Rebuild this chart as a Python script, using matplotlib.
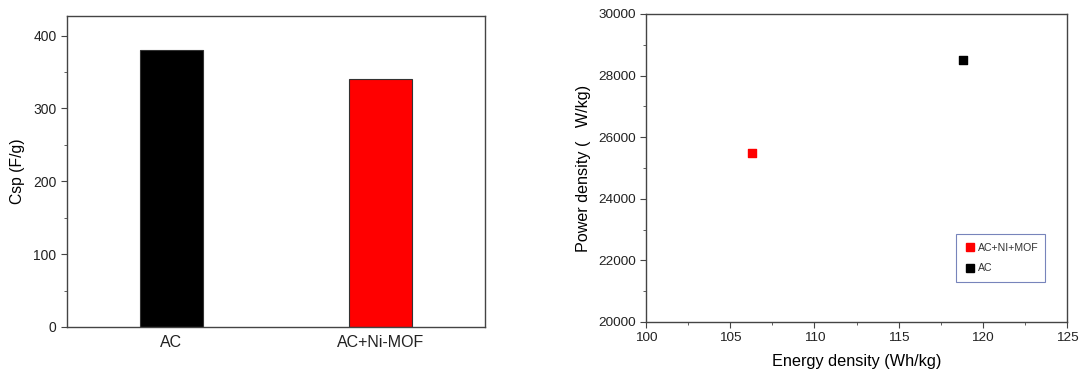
import matplotlib
matplotlib.use("Agg")
import matplotlib.pyplot as plt
from matplotlib.ticker import MultipleLocator
from matplotlib.lines import Line2D

# bar chart data
samples = ["AC", "AC+Ni-MOF"]
csp = [380, 340]
bar_colors = ["#000000", "#ff0000"]

# Ragone-type point data
energy = [106.3, 118.8]
power = [25500, 28500]
point_labels = ["AC+NI+MOF", "AC"]
point_colors = ["#ff0000", "#000000"]

plt.rcParams["font.family"] = ["Liberation Sans", "DejaVu Sans"]
axis_col = "#444444"

fig = plt.figure(figsize=(10.84, 3.78), dpi=100)
W, H = 1084, 378


def style(ax):
    for s in ax.spines.values():
        s.set_color(axis_col)
        s.set_linewidth(1.0)
    ax.tick_params(which="both", direction="out", color=axis_col, labelcolor="#222222")
    ax.tick_params(which="major", length=4)
    ax.tick_params(which="minor", length=2.5)


# left: bar chart
ax1 = fig.add_axes([67 / W, 1 - 327 / H, (485 - 67) / W, (327 - 16) / H])
x = range(len(samples))
ax1.bar(x, csp, width=0.30, color=bar_colors, edgecolor="#333333", linewidth=0.8)
ax1.set_xlim(-0.5, 1.5)
ax1.set_ylim(0, 427)
ax1.set_xticks(list(x))
ax1.set_xticklabels(samples, fontsize=11.5)
ax1.yaxis.set_major_locator(MultipleLocator(100))
ax1.yaxis.set_minor_locator(MultipleLocator(50))
ax1.set_ylabel("Csp (F/g)", fontsize=11.3, labelpad=6)
style(ax1)
ax1.tick_params(axis="x", length=0, pad=6)
ax1.tick_params(axis="y", labelsize=10)

# right: power vs energy density
ax2 = fig.add_axes([646 / W, 1 - 322 / H, (1067 - 646) / W, (322 - 14) / H])
for e, p, c, lab in zip(energy, power, point_colors, point_labels):
    ax2.scatter([e], [p], marker="s", s=38 if c == "#ff0000" else 26, color=c, label=lab)
ax2.set_xlim(100, 125)
ax2.set_ylim(20000, 30000)
ax2.xaxis.set_major_locator(MultipleLocator(5))
ax2.xaxis.set_minor_locator(MultipleLocator(2.5))
ax2.yaxis.set_major_locator(MultipleLocator(2000))
ax2.yaxis.set_minor_locator(MultipleLocator(1000))
ax2.set_xlabel("Energy density (Wh/kg)", fontsize=11.7, labelpad=7)
ax2.set_ylabel("Power density (   W/kg)", fontsize=11.6, labelpad=5)
style(ax2)
ax2.tick_params(labelsize=9.7)

handles = [Line2D([], [], marker="s", linestyle="", color=c, markersize=5.5) for c in point_colors]
leg = ax2.legend(handles, point_labels, loc="lower left",
                 bbox_to_anchor=((951 - 646) / (1067 - 646), (322 - 287) / (322 - 14),
                                 (1050 - 951) / (1067 - 646), (287 - 238) / (322 - 14)),
                 mode="expand", fontsize=7.6, frameon=True, fancybox=False,
                 handletextpad=0.3, handlelength=1.0, borderpad=0.8, labelspacing=1.0)
leg.get_frame().set_edgecolor("#5566aa")
leg.get_frame().set_linewidth(0.8)
for t in leg.get_texts():
    t.set_color("#333333")

fig.savefig("out.png", dpi=100, facecolor="white")
